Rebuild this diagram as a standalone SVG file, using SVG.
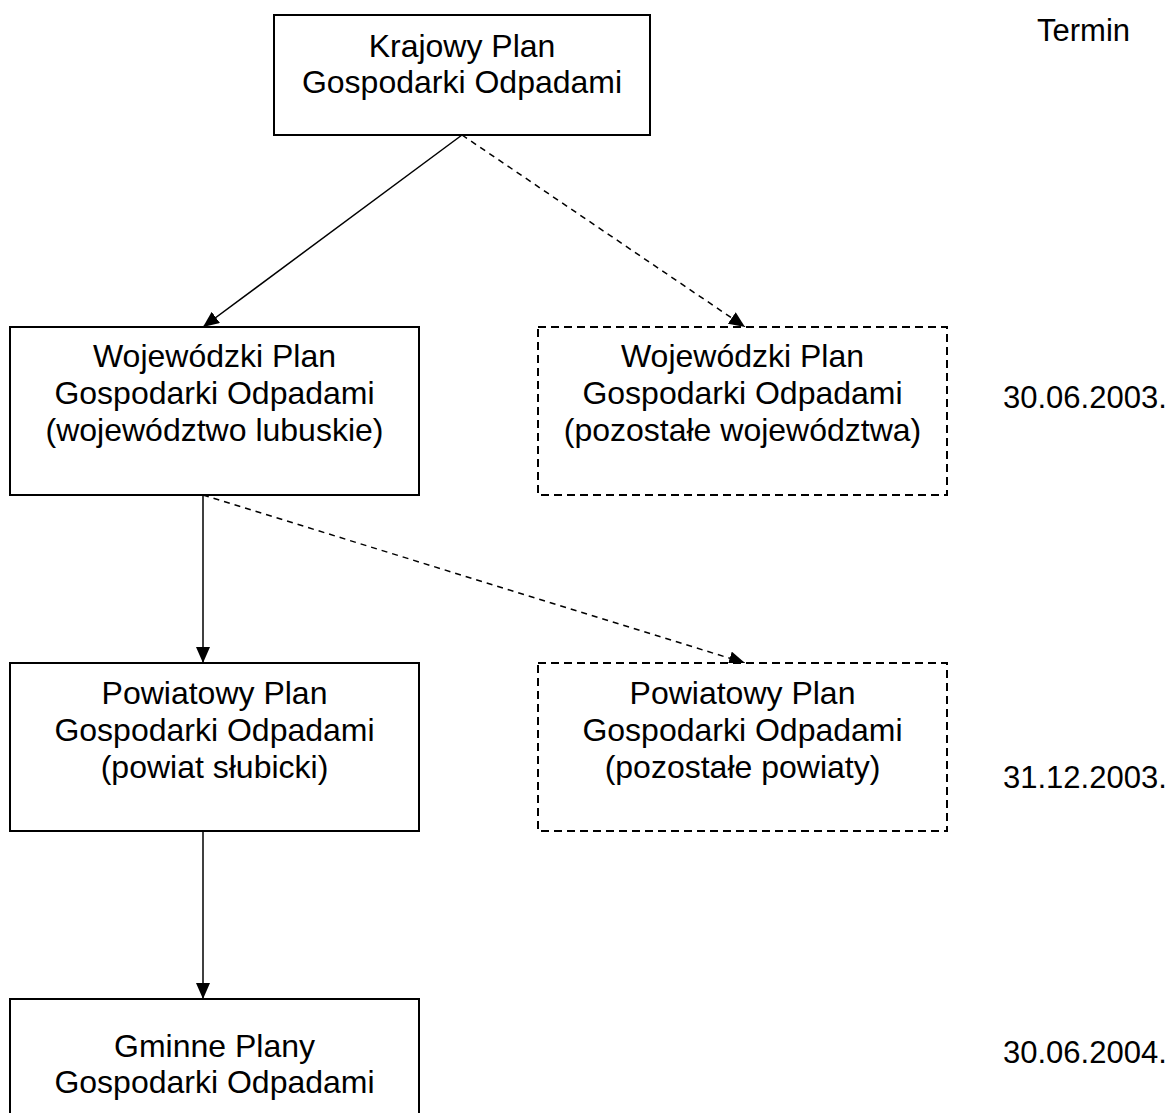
<svg xmlns="http://www.w3.org/2000/svg" width="1173" height="1113" viewBox="0 0 1173 1113">
<style>
.box{fill:#fff;stroke:#000;stroke-width:2}
.dbox{fill:#fff;stroke:#000;stroke-width:2;stroke-dasharray:8 5}
.t{font-family:"Liberation Sans",Arial,sans-serif;font-size:32px;fill:#000;text-anchor:middle}
.d{font-family:"Liberation Sans",Arial,sans-serif;font-size:31px;fill:#000}
.c{stroke:#000;stroke-width:1.5;fill:none}
.dash{stroke-dasharray:6 5}
</style>
<defs>
<marker id="ah" viewBox="0 0 16 14" refX="16" refY="7" markerWidth="16" markerHeight="14" markerUnits="userSpaceOnUse" orient="auto">
<path d="M0,0 L16,7 L0,14 Z" fill="#000"/>
</marker>
</defs>
<rect width="1173" height="1113" fill="#fff"/>
<g id="connectors">
<line class="c" x1="462" y1="135" x2="203" y2="327" marker-end="url(#ah)"/>
<line class="c dash" x1="462" y1="135" x2="745" y2="327" marker-end="url(#ah)"/>
<line class="c" x1="203" y1="495" x2="203" y2="663" marker-end="url(#ah)"/>
<line class="c dash" x1="203" y1="495" x2="745" y2="663" marker-end="url(#ah)"/>
<line class="c" x1="203" y1="831" x2="203" y2="999" marker-end="url(#ah)"/>
</g>
<g id="krajowy">
<rect class="box" x="274" y="15" width="376" height="120"/>
<text class="t" x="462" y="57">Krajowy Plan</text>
<text class="t" x="462" y="93">Gospodarki Odpadami</text>
</g>
<g id="woj-lubuskie">
<rect class="box" x="10" y="327" width="409" height="168"/>
<text class="t" x="214.5" y="367">Wojewódzki Plan</text>
<text class="t" x="214.5" y="404">Gospodarki Odpadami</text>
<text class="t" x="214.5" y="441">(województwo lubuskie)</text>
</g>
<g id="woj-pozostale">
<rect class="dbox" x="538" y="327" width="409" height="168"/>
<text class="t" x="742.5" y="367">Wojewódzki Plan</text>
<text class="t" x="742.5" y="404">Gospodarki Odpadami</text>
<text class="t" x="742.5" y="441">(pozostałe województwa)</text>
</g>
<g id="pow-slubicki">
<rect class="box" x="10" y="663" width="409" height="168"/>
<text class="t" x="214.5" y="704">Powiatowy Plan</text>
<text class="t" x="214.5" y="741">Gospodarki Odpadami</text>
<text class="t" x="214.5" y="778">(powiat słubicki)</text>
</g>
<g id="pow-pozostale">
<rect class="dbox" x="538" y="663" width="409" height="168"/>
<text class="t" x="742.5" y="704">Powiatowy Plan</text>
<text class="t" x="742.5" y="741">Gospodarki Odpadami</text>
<text class="t" x="742.5" y="778">(pozostałe powiaty)</text>
</g>
<g id="gminne">
<rect class="box" x="10" y="999" width="409" height="130"/>
<text class="t" x="214.5" y="1057">Gminne Plany</text>
<text class="t" x="214.5" y="1093">Gospodarki Odpadami</text>
</g>
<g id="terminy">
<text class="d" x="1037" y="41">Termin</text>
<text class="d" x="1003" y="408">30.06.2003.</text>
<text class="d" x="1003" y="788">31.12.2003.</text>
<text class="d" x="1003" y="1063">30.06.2004.</text>
</g>
</svg>
